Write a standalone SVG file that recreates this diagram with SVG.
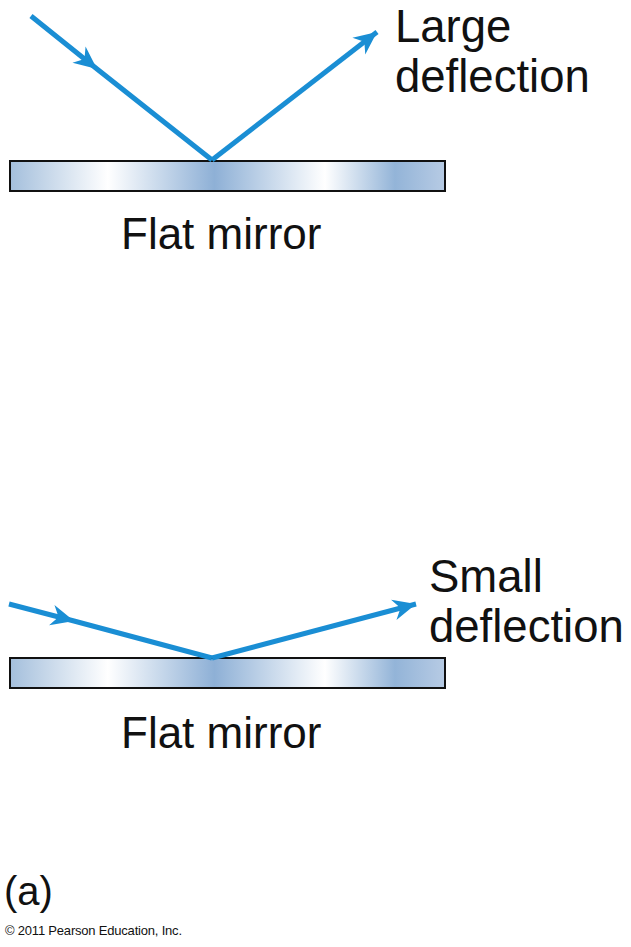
<svg xmlns="http://www.w3.org/2000/svg" width="631" height="947" viewBox="0 0 631 947">
<style>
.ray{fill:none;stroke:#1a8ed4;stroke-width:5;stroke-linecap:butt}
.mirror{fill:url(#mg);stroke:#111;stroke-width:2}
.lbl{font-family:"Liberation Sans",Arial,Helvetica,sans-serif;font-size:44px;fill:#111}
.lbl2{font-family:"Liberation Sans",Arial,Helvetica,sans-serif;font-size:45.5px;fill:#111}
</style>
<defs>
<linearGradient id="mg" x1="0" y1="0" x2="1" y2="0">
<stop offset="0" stop-color="#a4bfdc"/>
<stop offset="0.225" stop-color="#ffffff"/>
<stop offset="0.47" stop-color="#8eb0d6"/>
<stop offset="0.724" stop-color="#ffffff"/>
<stop offset="0.885" stop-color="#93b4d8"/>
<stop offset="1" stop-color="#b7cbe4"/>
</linearGradient>
<marker id="ah" markerUnits="userSpaceOnUse" viewBox="-26 -14 28 28" refX="0" refY="0" markerWidth="28" markerHeight="28" orient="auto" overflow="visible">
<path d="M0,0 L-23,-10.5 L-16,0 L-23,10.5 Z" fill="#1a8ed4"/>
</marker>
</defs>
<g id="top-mirror">
<rect class="mirror" x="10" y="161" width="435" height="30"/>
<text class="lbl" x="121" y="249">Flat mirror</text>
</g>
<g id="top-label">
<text class="lbl2" x="395" y="42">Large</text>
<text class="lbl2" x="395" y="92">deflection</text>
</g>
<g id="bottom-mirror">
<rect class="mirror" x="10" y="658" width="435" height="30"/>
<text class="lbl" x="121" y="748">Flat mirror</text>
</g>
<g id="bottom-label">
<text class="lbl2" x="429" y="592">Small</text>
<text class="lbl2" x="429" y="642">deflection</text>
</g>
<g id="caption">
<text x="4" y="905" style="font-family:'Liberation Sans',Arial,sans-serif;font-size:40px;fill:#111">(a)</text>
<text x="5" y="935" textLength="177" style="font-family:'Liberation Sans',Arial,sans-serif;font-size:13px;fill:#111">© 2011 Pearson Education, Inc.</text>
</g>
<g id="connectors">
<path class="ray" d="M31,16 L97,69 L212,160" marker-mid="url(#ah)"/>
<path class="ray" d="M212,160 L377,32" marker-end="url(#ah)"/>
<path class="ray" d="M9,604 L74,621 L212,658" marker-mid="url(#ah)"/>
<path class="ray" d="M212,658 L416,604" marker-end="url(#ah)"/>
</g>
</svg>
